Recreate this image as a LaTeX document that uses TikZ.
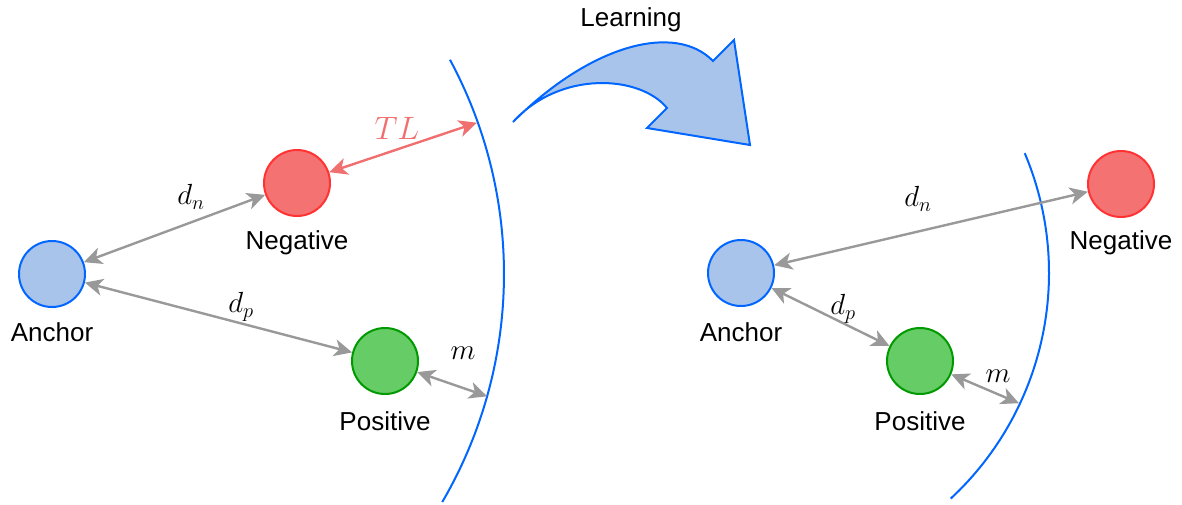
\RequirePackage{fix-cm}
\documentclass[tikz,border=0pt]{standalone}
\usepackage{graphicx}
\usepackage{fontspec}
\setmainfont{Liberation Sans}
\usetikzlibrary{arrows.meta}
\definecolor{bstroke}{RGB}{0,102,255}
\definecolor{bfill}{RGB}{169,196,235}
\definecolor{rstroke}{RGB}{255,51,51}
\definecolor{rfill}{RGB}{244,114,114}
\definecolor{gstroke}{RGB}{0,153,0}
\definecolor{gfill}{RGB}{102,204,102}
\definecolor{garr}{RGB}{153,153,153}
\definecolor{tlcol}{RGB}{240,112,112}
\newcommand{\enlmath}[1]{\scalebox{1.12}{$#1$}}
\begin{document}
\begin{tikzpicture}[x=1pt,y=-1pt,
  ball/.style={circle,minimum size=66pt,inner sep=0pt,line width=2pt},
  ancball/.style={ball,draw=bstroke,fill=bfill},
  negball/.style={ball,draw=rstroke,fill=rfill},
  posball/.style={ball,draw=gstroke,fill=gfill},
  lbl/.style={font=\fontsize{26}{30}\selectfont,inner sep=0pt},
  mlbl/.style={font=\fontsize{26}{30}\selectfont,inner sep=0pt},
  darr/.style={draw=garr,line width=2.4pt,{Stealth[length=18pt,width=17pt,inset=5pt]}-{Stealth[length=18pt,width=17pt,inset=5pt]}},
  tlarr/.style={draw=tlcol,line width=2.4pt,{Stealth[length=18pt,width=17pt,inset=5pt]}-{Stealth[length=18pt,width=17pt,inset=5pt]}},
  margin/.style={draw=bstroke,line width=2pt}]
\useasboundingbox (0,0) rectangle (1182,504);

% ---- left panel ----
\node[ancball] (aL) at (52,274) {};
\node[negball] (nL) at (297,183) {};
\node[posball] (pL) at (385,361) {};
\node[lbl] (aLt) at (52,332) {Anchor};
\node[lbl] (nLt) at (297,243) {Negative};
\node[lbl] (pLt) at (385,421) {Positive};

\draw[margin] ([shift={(28.3:452pt)}]aL.center) arc[start angle=28.3,end angle=-30.3,radius=452pt];
\coordinate (mLc) at ([shift={(-15.7:452pt)}]aL.center);
\coordinate (tLc) at ([shift={(19.6:451pt)}]aL.center);

\draw[darr] (aL) -- (nL);
\draw[darr] (aL) -- (pL);
\draw[darr] (pL) -- (mLc);
\draw[tlarr] (nL) -- (tLc);

\node[mlbl] (dnL) at (191,197) {\enlmath{d_n}};
\node[mlbl] (dpL) at (241,307) {\enlmath{d_p}};
\node[mlbl] (mL) at (463,353) {\enlmath{m}};
\node[mlbl,text=tlcol,font=\fontsize{30}{34}\selectfont] (tl) at (397,128) {\scalebox{1.08}{$TL$}};

% ---- learning arrow ----
\node[lbl] (learn) at (631,20) {Learning};
\draw[draw=bstroke,fill=bfill,line width=2pt,line join=miter]
  (513,122) .. controls (590,45) and (675,22) .. (713,61)
  -- (734,40) -- (750,145) -- (647,128) -- (667,108)
  .. controls (640,75) and (560,70) .. (513,122) -- cycle;

% ---- right panel ----
\node[ancball] (aR) at (741,273) {};
\node[negball] (nR) at (1121,184) {};
\node[posball] (pR) at (920,361) {};
\node[lbl] (aRt) at (741,332) {Anchor};
\node[lbl] (nRt) at (1121,243) {Negative};
\node[lbl] (pRt) at (920,421) {Positive};

\draw[margin] ([shift={(22.9:308pt)}]aR.center) arc[start angle=22.9,end angle=-47.1,radius=308pt];
\coordinate (mRc) at ([shift={(-25.1:307pt)}]aR.center);

\draw[darr] (aR) -- (nR);
\draw[darr] (aR) -- (pR);
\draw[darr] (pR) -- (mRc);

\node[mlbl] (dnR) at (918,199) {\enlmath{d_n}};
\node[mlbl] (dpR) at (843,309) {\enlmath{d_p}};
\node[mlbl] (mR) at (998,376) {\enlmath{m}};
\end{tikzpicture}
\end{document}
